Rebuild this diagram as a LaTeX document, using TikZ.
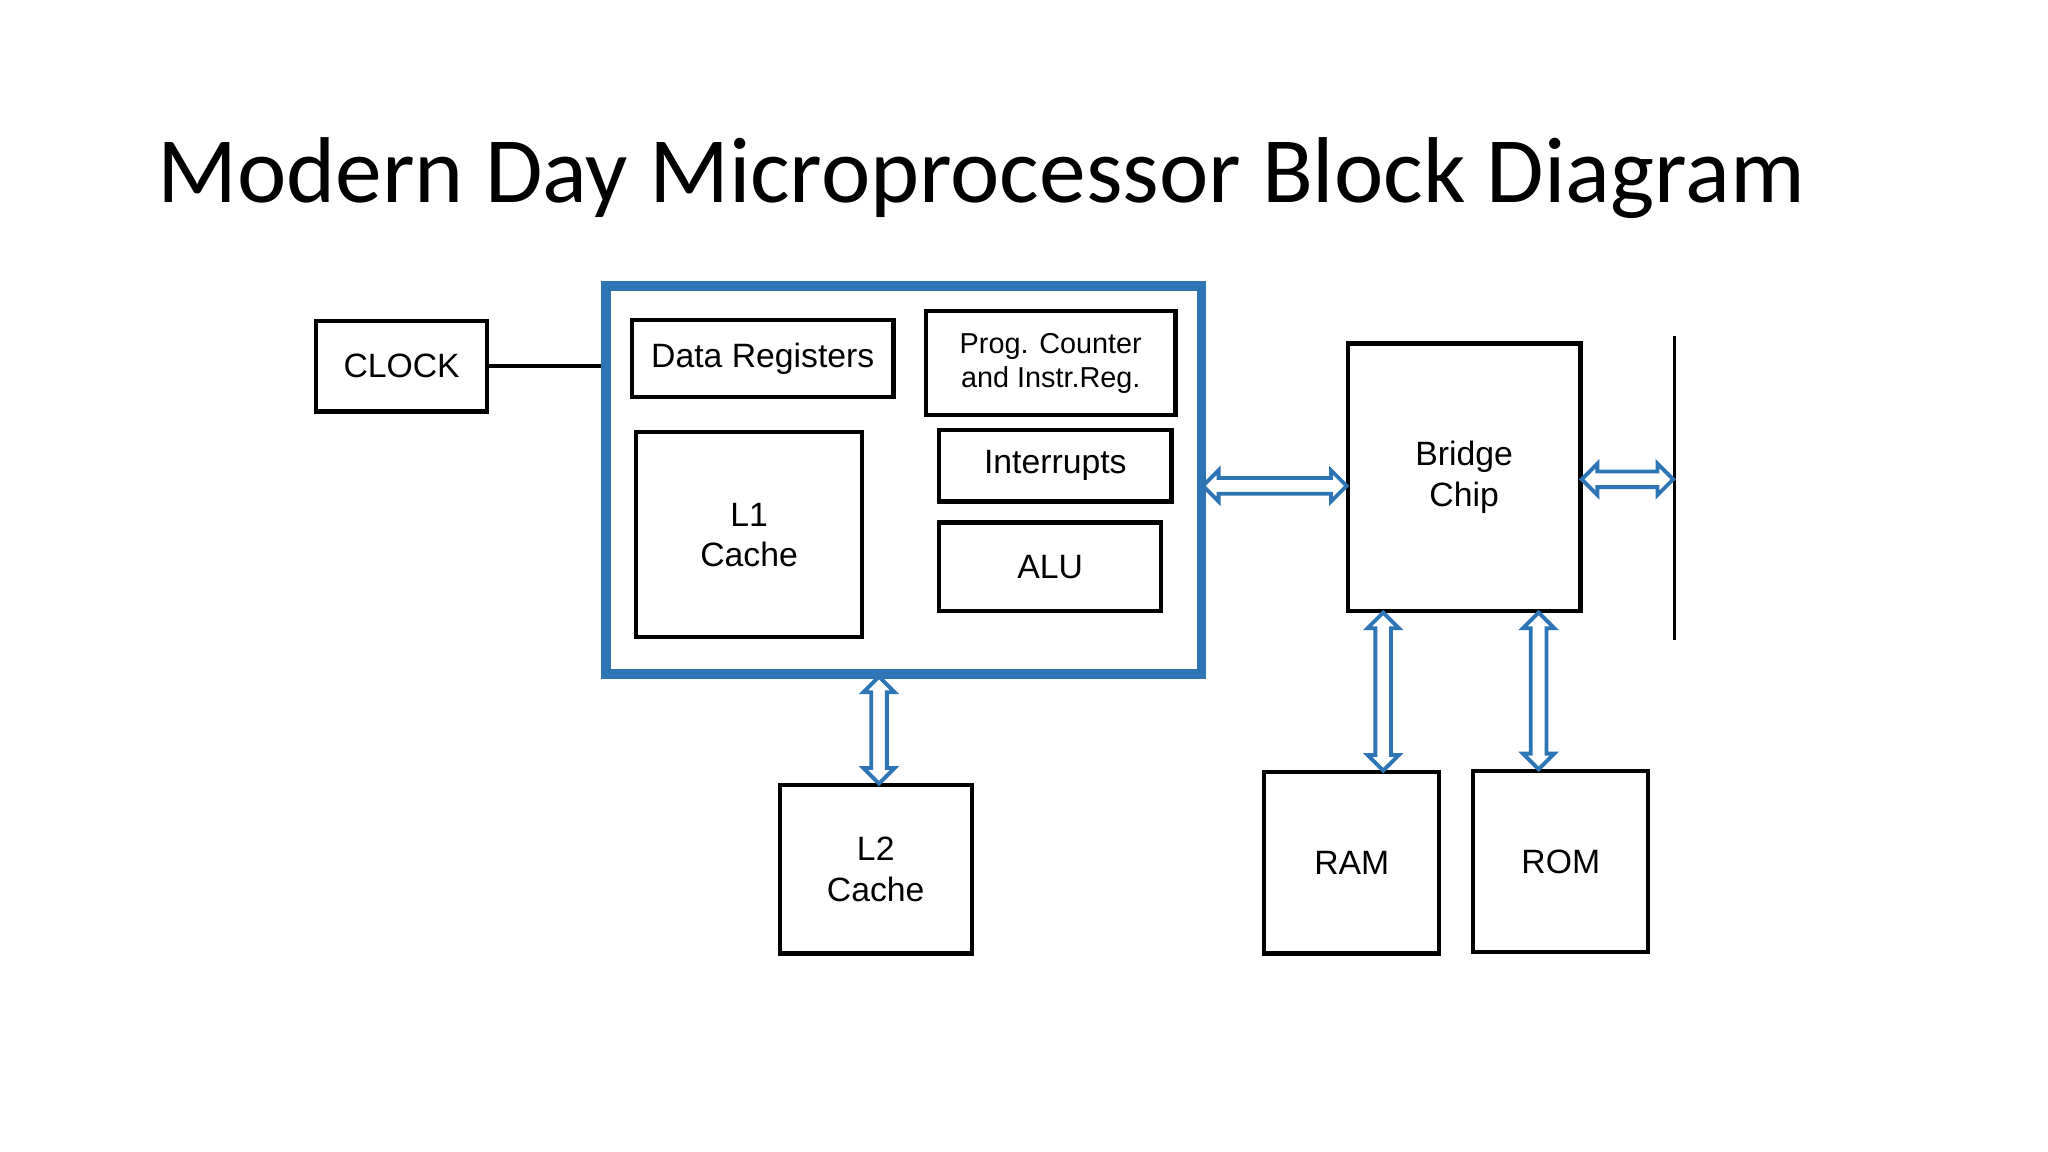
\documentclass[tikz,border=0pt]{standalone}
\usepackage{fontspec}
\setmainfont{Liberation Sans}
\newfontfamily\titlefont{Carlito}
\usetikzlibrary{fit}
\definecolor{frameblue}{RGB}{46,117,182}
\tikzset{
  box/.style={draw=black, line width=1.2pt, inner sep=0pt},
  cpubox/.style={draw=frameblue, line width=2.6pt, inner sep=0pt},
  lbl/.style={font=\fontsize{9.6}{11.5}\selectfont, align=center},
  bus/.style={draw=frameblue, line width=1.1pt, line join=miter}
}
% hollow double arrows (shaft half width 6, head half width 12, head length 12)
\newcommand{\hbus}[3]{\draw[bus] (#1,#3) -- (#1+12,#3-12) -- (#1+12,#3-6) -- (#2-12,#3-6) -- (#2-12,#3-12) -- (#2,#3) -- (#2-12,#3+12) -- (#2-12,#3+6) -- (#1+12,#3+6) -- (#1+12,#3+12) -- cycle;}
\newcommand{\vbus}[3]{\draw[bus] (#1,#2) -- (#1-12,#2+12) -- (#1-6,#2+12) -- (#1-6,#3-12) -- (#1-12,#3-12) -- (#1,#3) -- (#1+12,#3-12) -- (#1+6,#3-12) -- (#1+6,#2+12) -- (#1+12,#2+12) -- cycle;}
\begin{document}
\begin{tikzpicture}[x=0.01306cm, y=-0.01306cm]
  \useasboundingbox (0,0) rectangle (1568,882);

  % title
  \node[anchor=base west, inner sep=0pt, font=\titlefont\fontsize{26.6}{30}\selectfont] (title) at (120,155) {Modern Day Microprocessor Block Diagram};

  % processor
  \node[cpubox, fit={(464,219) (920,516)}] (cpu) {};
  \node[box, fit={(484,245) (684,304)}] (dreg) {};
  \node[lbl] at (dreg) {Data Registers};
  \node[box, fit={(709,238) (900,318)}] (pc) {};
  \node[lbl, font=\fontsize{8.2}{9.6}\selectfont] at (pc) {Prog. Counter\\and Instr.Reg.};
  \node[box, fit={(487,331) (660,488)}] (lone) {};
  \node[lbl] at (lone) {L1\\Cache};
  \node[box, fit={(719,329) (897,384)}] (intr) {};
  \node[lbl] at (intr) {Interrupts};
  \node[box, fit={(719,400) (889,468)}] (alu) {};
  \node[lbl] at (alu) {ALU};

  % clock
  \node[box, fit={(242,246) (373,315)}] (clock) {};
  \node[lbl] at (clock) {CLOCK};
  \draw[line width=1.2pt] (clock.east) -- (cpu.west |- clock.east);

  % outside
  \node[box, fit={(597,601) (744,730)}] (ltwo) {};
  \node[lbl] at (ltwo) {L2\\Cache};
  \node[box, fit={(1032,263) (1210,468)}] (bridge) {};
  \node[lbl] at (bridge) {Bridge\\Chip};
  \node[box, fit={(968,591) (1102,730)}] (ram) {};
  \node[lbl] at (ram) {RAM};
  \node[box, fit={(1128,590) (1262,729)}] (rom) {};
  \node[lbl] at (rom) {ROM};
  \coordinate (bustop) at (1282,257);
  \coordinate (busbot) at (1282,490);
  \draw[line width=0.8pt] (bustop) -- (busbot);

  % buses
  \hbus{921}{1031}{372}
  \hbus{1211}{1281}{367}
  \vbus{673}{518}{600}
  \vbus{1059}{469}{590}
  \vbus{1178}{469}{589}
\end{tikzpicture}
\end{document}
